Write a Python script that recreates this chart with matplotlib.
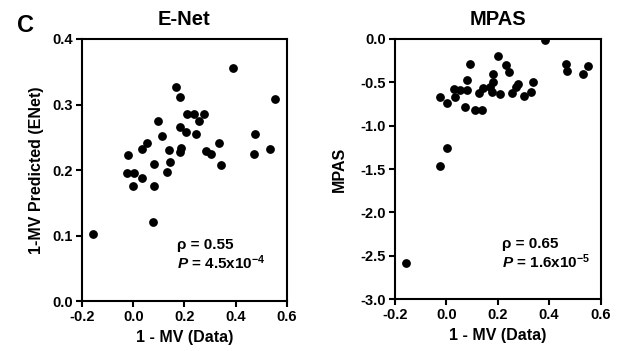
import matplotlib
matplotlib.use("Agg")
import matplotlib.pyplot as plt

plt.rcParams['font.family'] = ['Liberation Sans', 'DejaVu Sans']
plt.rcParams['font.weight'] = 'bold'
plt.rcParams['mathtext.fontset'] = 'custom'
plt.rcParams['mathtext.rm'] = 'Liberation Sans:bold'
plt.rcParams['mathtext.it'] = 'Liberation Sans:bold:italic'
plt.rcParams['mathtext.bf'] = 'Liberation Sans:bold'

# E-Net panel
enet_x = [-0.158, 0.388, 0.169, 0.182, 0.554, 0.209, 0.238, 0.278, 0.095, 0.255,
          0.182, 0.205, 0.247, 0.112, 0.474, 0.055, 0.333, 0.033, 0.140, 0.185,
          0.182, 0.283, 0.304, 0.470, 0.534, -0.021, 0.083, 0.143, 0.341, -0.025,
          0.003, 0.130, 0.035, 0.001, 0.083, 0.076]
enet_y = [0.102, 0.355, 0.327, 0.312, 0.309, 0.285, 0.286, 0.285, 0.275, 0.275,
          0.266, 0.258, 0.255, 0.252, 0.255, 0.241, 0.241, 0.232, 0.230, 0.233,
          0.228, 0.229, 0.225, 0.224, 0.232, 0.223, 0.209, 0.212, 0.207, 0.196,
          0.196, 0.197, 0.188, 0.175, 0.175, 0.121]

# MPAS panel
mpas_x = [-0.158, 0.384, 0.202, 0.092, 0.233, 0.242, 0.465, 0.550, 0.469, 0.530,
          0.180, 0.081, 0.181, 0.337, 0.030, 0.053, 0.081, 0.141, 0.168, 0.179,
          0.127, 0.207, 0.254, 0.277, 0.272, 0.302, 0.330, -0.024, 0.035, 0.001,
          0.074, 0.110, 0.139, 0.001, -0.024]
mpas_y = [-2.588, -0.016, -0.193, -0.290, -0.306, -0.382, -0.286, -0.317, -0.371, -0.405,
          -0.405, -0.475, -0.491, -0.491, -0.576, -0.587, -0.587, -0.561, -0.556, -0.607,
          -0.618, -0.634, -0.626, -0.521, -0.556, -0.653, -0.614, -0.672, -0.665, -0.741,
          -0.780, -0.819, -0.819, -1.263, -1.464]

xticks = [-0.2, 0.0, 0.2, 0.4, 0.6]
enet_yticks = [0.0, 0.1, 0.2, 0.3, 0.4]
mpas_yticks = [-3.0, -2.5, -2.0, -1.5, -1.0, -0.5, 0.0]

fig = plt.figure(figsize=(6.21, 3.51), dpi=100)
ax1 = fig.add_axes([0.132, 0.142, 0.330, 0.747])
ax2 = fig.add_axes([0.636, 0.148, 0.331, 0.741])


def style(ax):
    for s in ax.spines.values():
        s.set_linewidth(1.5)
    ax.tick_params(direction='out', width=1.5, length=4, labelsize=10.5, pad=2.5)
    for lab in ax.get_xticklabels() + ax.get_yticklabels():
        lab.set_fontweight('bold')


ax1.scatter(enet_x, enet_y, s=28, color='black', zorder=3)
ax1.set_xlim(-0.2, 0.6)
ax1.set_ylim(0.0, 0.4)
ax1.set_xticks(xticks)
ax1.set_yticks(enet_yticks)
ax1.set_xticklabels([f'{t:.1f}' for t in xticks])
ax1.set_yticklabels([f'{t:.1f}' for t in enet_yticks])
ax1.set_title('E-Net', fontsize=14.5, fontweight='bold', pad=10)
ax1.set_xlabel('1 - MV (Data)', fontsize=11.5, fontweight='bold', labelpad=4)
ax1.set_ylabel('1-MV Predicted (ENet)', fontsize=11.5, fontweight='bold', labelpad=6)
ax1.text(0.465, 0.215, 'ρ = 0.55', transform=ax1.transAxes, fontsize=11,
         fontweight='bold', va='center')
ax1.text(0.465, 0.148, r'$P$ = 4.5x10$^{-4}$', transform=ax1.transAxes, fontsize=11,
         fontweight='bold', va='center')
style(ax1)

ax2.scatter(mpas_x, mpas_y, s=28, color='black', zorder=3)
ax2.set_xlim(-0.2, 0.6)
ax2.set_ylim(-3.0, 0.0)
ax2.set_xticks(xticks)
ax2.set_yticks(mpas_yticks)
ax2.set_xticklabels([f'{t:.1f}' for t in xticks])
ax2.set_yticklabels([f'{t:.1f}' for t in mpas_yticks])
ax2.set_title('MPAS', fontsize=14.5, fontweight='bold', pad=10)
ax2.set_xlabel('1 - MV (Data)', fontsize=11.5, fontweight='bold', labelpad=4)
ax2.set_ylabel('MPAS', fontsize=11.5, fontweight='bold', labelpad=10)
ax2.text(0.52, 0.21, 'ρ = 0.65', transform=ax2.transAxes, fontsize=11,
         fontweight='bold', va='center')
ax2.text(0.52, 0.143, r'$P$ = 1.6x10$^{-5}$', transform=ax2.transAxes, fontsize=11,
         fontweight='bold', va='center')
style(ax2)

fig.text(0.027, 0.909, 'C', fontsize=17, fontweight='bold')

fig.savefig('out.png', dpi=100)
